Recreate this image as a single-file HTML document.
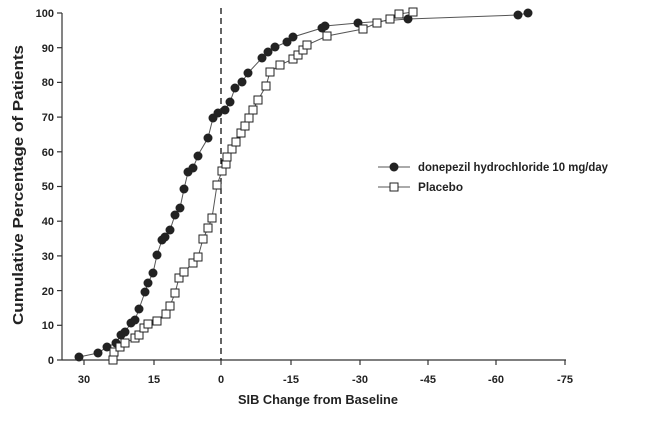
<!DOCTYPE html>
<html><head><style>body{margin:0;background:#fff}svg{display:block}text{font-family:"Liberation Sans",Arial,sans-serif;font-weight:bold;fill:#222}</style></head><body>
<svg width="663" height="421" viewBox="0 0 663 421">
<g stroke="#333" stroke-width="1.2" fill="none">
<line x1="62" y1="13" x2="62" y2="360"/>
<line x1="62" y1="360" x2="566" y2="360"/>
</g>
<g stroke="#333" stroke-width="1.2">
<line x1="57" y1="360" x2="62" y2="360"/><line x1="57" y1="325.3" x2="62" y2="325.3"/><line x1="57" y1="290.6" x2="62" y2="290.6"/><line x1="57" y1="255.9" x2="62" y2="255.9"/><line x1="57" y1="221.2" x2="62" y2="221.2"/><line x1="57" y1="186.5" x2="62" y2="186.5"/><line x1="57" y1="151.8" x2="62" y2="151.8"/><line x1="57" y1="117.1" x2="62" y2="117.1"/><line x1="57" y1="82.4" x2="62" y2="82.4"/><line x1="57" y1="47.7" x2="62" y2="47.7"/><line x1="57" y1="13" x2="62" y2="13"/>
<line x1="84" y1="360" x2="84" y2="365"/><line x1="154" y1="360" x2="154" y2="365"/><line x1="221" y1="360" x2="221" y2="365"/><line x1="291" y1="360" x2="291" y2="365"/><line x1="360" y1="360" x2="360" y2="365"/><line x1="428" y1="360" x2="428" y2="365"/><line x1="496" y1="360" x2="496" y2="365"/><line x1="565" y1="360" x2="565" y2="365"/>
</g>
<line x1="221" y1="8" x2="221" y2="360" stroke="#111" stroke-width="1.3" stroke-dasharray="6,4"/>
<g font-size="11" text-anchor="end">
<text x="54" y="364">0</text><text x="54" y="329">10</text><text x="54" y="295">20</text><text x="54" y="260">30</text><text x="54" y="225">40</text><text x="54" y="190">50</text><text x="54" y="156">60</text><text x="54" y="121">70</text><text x="54" y="86">80</text><text x="54" y="52">90</text><text x="54" y="17">100</text>
</g>
<g font-size="11" text-anchor="middle">
<text x="84" y="383">30</text><text x="154" y="383">15</text><text x="221" y="383">0</text><text x="291" y="383">-15</text><text x="360" y="383">-30</text><text x="428" y="383">-45</text><text x="496" y="383">-60</text><text x="565" y="383">-75</text>
</g>
<text x="238" y="404" font-size="13" textLength="160" lengthAdjust="spacingAndGlyphs">SIB Change from Baseline</text>
<text transform="translate(23,325) rotate(-90)" font-size="15" textLength="280" lengthAdjust="spacingAndGlyphs">Cumulative Percentage of Patients</text>
<polyline fill="none" stroke="#555" stroke-width="1" points="113,360 114,352 120,347 125,343 135,338 139,335 144,328 148,324 157,321 166,314 170,306 175,293 179,278 184,272 193,263 198,257 203,239 208,228 212,218 217,185 222,171 226,164 227,157 232,149 236,142 241,133 245,126 249,118 253,110 258,100 266,86 270,72 280,65 293,59 298,55 303,50 307,45 327,36 363,29 377,23 390,19 399,14 413,12"/>
<polyline fill="none" stroke="#555" stroke-width="1" points="79,357 98,353 107,347 116,343 121,335 125,332 131,323 135,320 139,309 145,292 148,283 153,273 157,255 162,240 165,237 170,230 175,215 180,208 184,189 188,172 193,168 198,156 198,155 208,138 213,118 218,113 225,110 230,102 235,88 242,82 248,73 262,58 268,52 275,47 287,42 293,37 322,28 325,26 358,23 408,19 518,15 528,13"/>
<g fill="#222">
<circle cx="79" cy="357" r="4.5"/><circle cx="98" cy="353" r="4.5"/><circle cx="107" cy="347" r="4.5"/><circle cx="116" cy="343" r="4.5"/><circle cx="121" cy="335" r="4.5"/><circle cx="125" cy="332" r="4.5"/><circle cx="131" cy="323" r="4.5"/><circle cx="135" cy="320" r="4.5"/><circle cx="139" cy="309" r="4.5"/><circle cx="145" cy="292" r="4.5"/><circle cx="148" cy="283" r="4.5"/><circle cx="153" cy="273" r="4.5"/><circle cx="157" cy="255" r="4.5"/><circle cx="162" cy="240" r="4.5"/><circle cx="165" cy="237" r="4.5"/><circle cx="170" cy="230" r="4.5"/><circle cx="175" cy="215" r="4.5"/><circle cx="180" cy="208" r="4.5"/><circle cx="184" cy="189" r="4.5"/><circle cx="188" cy="172" r="4.5"/><circle cx="193" cy="168" r="4.5"/><circle cx="198" cy="156" r="4.5"/><circle cx="208" cy="138" r="4.5"/><circle cx="213" cy="118" r="4.5"/><circle cx="218" cy="113" r="4.5"/><circle cx="225" cy="110" r="4.5"/><circle cx="230" cy="102" r="4.5"/><circle cx="235" cy="88" r="4.5"/><circle cx="242" cy="82" r="4.5"/><circle cx="248" cy="73" r="4.5"/><circle cx="262" cy="58" r="4.5"/><circle cx="268" cy="52" r="4.5"/><circle cx="275" cy="47" r="4.5"/><circle cx="287" cy="42" r="4.5"/><circle cx="293" cy="37" r="4.5"/><circle cx="322" cy="28" r="4.5"/><circle cx="325" cy="26" r="4.5"/><circle cx="358" cy="23" r="4.5"/><circle cx="408" cy="19" r="4.5"/><circle cx="518" cy="15" r="4.5"/><circle cx="528" cy="13" r="4.5"/>
</g>
<g fill="#fff" stroke="#222" stroke-width="1">
<rect x="109" y="356" width="8" height="8"/><rect x="110" y="348" width="8" height="8"/><rect x="116" y="343" width="8" height="8"/><rect x="121" y="339" width="8" height="8"/><rect x="131" y="334" width="8" height="8"/><rect x="135" y="331" width="8" height="8"/><rect x="140" y="324" width="8" height="8"/><rect x="144" y="320" width="8" height="8"/><rect x="153" y="317" width="8" height="8"/><rect x="162" y="310" width="8" height="8"/><rect x="166" y="302" width="8" height="8"/><rect x="171" y="289" width="8" height="8"/><rect x="175" y="274" width="8" height="8"/><rect x="180" y="268" width="8" height="8"/><rect x="189" y="259" width="8" height="8"/><rect x="194" y="253" width="8" height="8"/><rect x="199" y="235" width="8" height="8"/><rect x="204" y="224" width="8" height="8"/><rect x="208" y="214" width="8" height="8"/><rect x="213" y="181" width="8" height="8"/><rect x="218" y="167" width="8" height="8"/><rect x="222" y="160" width="8" height="8"/><rect x="223" y="153" width="8" height="8"/><rect x="228" y="145" width="8" height="8"/><rect x="232" y="138" width="8" height="8"/><rect x="237" y="129" width="8" height="8"/><rect x="241" y="122" width="8" height="8"/><rect x="245" y="114" width="8" height="8"/><rect x="249" y="106" width="8" height="8"/><rect x="254" y="96" width="8" height="8"/><rect x="262" y="82" width="8" height="8"/><rect x="266" y="68" width="8" height="8"/><rect x="276" y="61" width="8" height="8"/><rect x="289" y="55" width="8" height="8"/><rect x="294" y="51" width="8" height="8"/><rect x="299" y="46" width="8" height="8"/><rect x="303" y="41" width="8" height="8"/><rect x="323" y="32" width="8" height="8"/><rect x="359" y="25" width="8" height="8"/><rect x="373" y="19" width="8" height="8"/><rect x="386" y="15" width="8" height="8"/><rect x="395" y="10" width="8" height="8"/><rect x="409" y="8" width="8" height="8"/>
</g>
<line x1="378" y1="167" x2="410" y2="167" stroke="#555"/>
<circle cx="394" cy="167" r="4.5" fill="#222"/>
<line x1="378" y1="187" x2="410" y2="187" stroke="#555"/>
<rect x="390" y="183" width="8" height="8" fill="#fff" stroke="#222"/>
<text x="418" y="171" font-size="12" textLength="190" lengthAdjust="spacingAndGlyphs">donepezil hydrochloride 10 mg/day</text>
<text x="418" y="191" font-size="12" textLength="45" lengthAdjust="spacingAndGlyphs">Placebo</text>
</svg>
</body></html>
